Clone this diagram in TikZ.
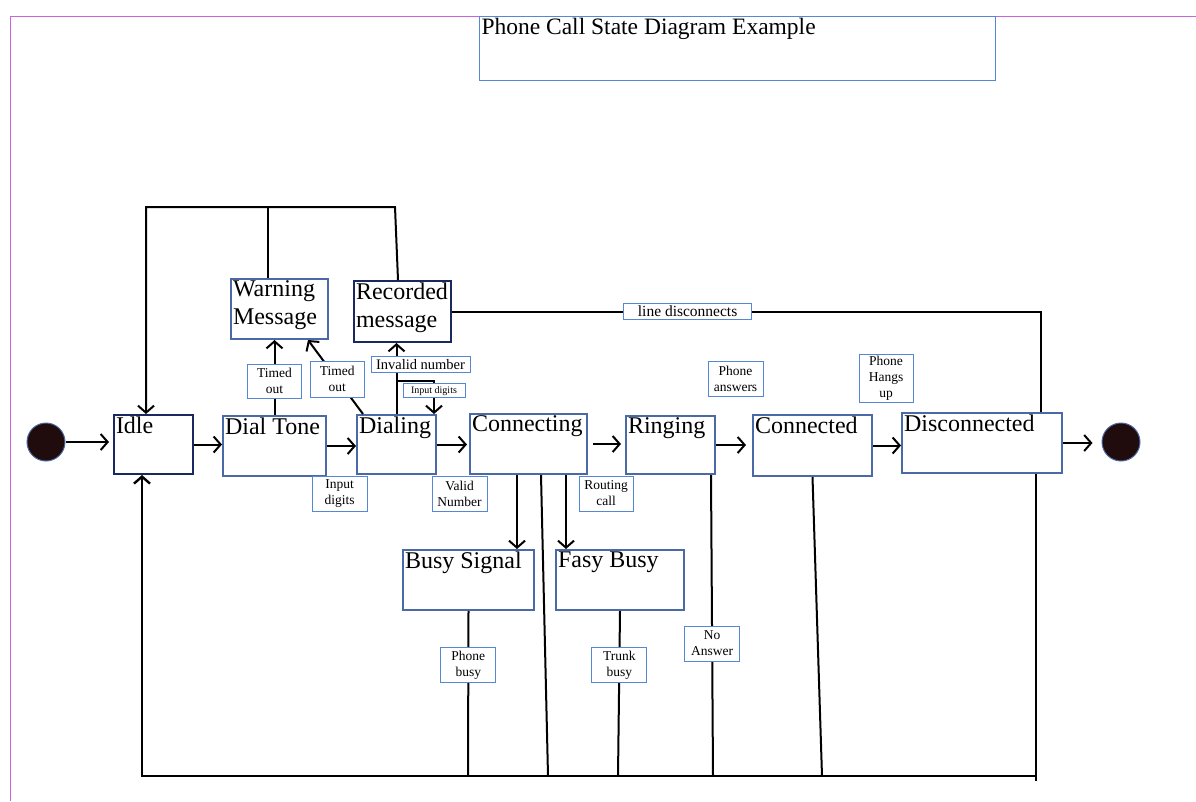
\documentclass[tikz,border=0pt]{standalone}
\usepackage{fontspec}
\setmainfont{Liberation Serif}
\usetikzlibrary{shapes}
\usetikzlibrary{calc}
\usetikzlibrary{arrows.meta}

\definecolor{framepink}{RGB}{200,100,220}
\definecolor{stateblue}{RGB}{75,105,165}
\definecolor{navy}{RGB}{25,40,95}
\definecolor{lblblue}{RGB}{85,135,210}
\definecolor{dotfill}{RGB}{32,12,12}

\newcommand{\sttext}[3]{\parbox[t][#2][t]{#1}{\raggedright #3}}

\tikzset{
  state/.style={draw=stateblue, line width=2pt, rectangle, anchor=north west, inner sep=2pt, font=\fontsize{24}{28}\selectfont},
  lbl/.style={draw=lblblue, line width=1pt, fill=white, rectangle, align=center, inner sep=1pt, minimum width=55pt, minimum height=35pt, font=\fontsize{13.5}{16}\selectfont},
  dot/.style={circle, fill=dotfill, draw=stateblue, line width=1pt, minimum size=38pt, inner sep=0pt},
  conn/.style={line width=2pt}
}

\begin{document}
\begin{tikzpicture}[x=1pt, y=-1pt, >={Straight Barb[length=7pt,width=16pt]}]
  \useasboundingbox (0,0) rectangle (1196,801);
  \draw[framepink, line width=1pt] (10,801) -- (10,16) -- (1196,16);
  \node[state, draw=lblblue, line width=1pt, font=\fontsize{23.5}{26}\selectfont] (title) at (479,16) {\sttext{512pt}{60pt}{Phone Call State Diagram Example}};

  \node[dot] (start) at (46,442) {};
  \node[dot] (stop) at (1121,442) {};

  \node[state, draw=navy] (idle) at (113,414) {\sttext{75pt}{55pt}{Idle}};
  \node[state] (dialtone) at (222,415) {\sttext{99pt}{56pt}{Dial Tone}};
  \node[state] (dialing) at (356,414) {\sttext{75pt}{55pt}{Dialing}};
  \node[state] (connecting) at (469,413) {\sttext{113pt}{56pt}{Connecting}};
  \node[state] (ringing) at (625,415) {\sttext{85pt}{54pt}{Ringing}};
  \node[state] (connected) at (752,414) {\sttext{115pt}{57pt}{Connected}};
  \node[state] (disconnected) at (901,412) {\sttext{156pt}{56pt}{Disconnected}};
  \node[state] (warning) at (230,278) {\sttext{93pt}{56pt}{Warning\\Message}};
  \node[state, draw=navy] (recorded) at (353,280) {\sttext{93pt}{57pt}{Recorded\\message}};
  \node[state] (busy) at (402,549) {\sttext{127pt}{56pt}{Busy Signal}};
  \node[state] (fasy) at (555,549) {\sttext{124pt}{56pt}{Fasy Busy}};

  \draw[->, conn, shorten >=4pt] (start) -- (start -| idle.west);
  \draw[->, conn] (idle.east) -- (idle.east -| dialtone.west);
  \draw[->, conn] (dialtone.east) -- (dialtone.east -| dialing.west);
  \draw[->, conn, shorten >=2pt] (dialing.east) -- (dialing.east -| connecting.west);
  \draw[->, conn, shorten <=5pt, shorten >=4pt] (connecting.east) -- (connecting.east -| ringing.west);
  \draw[->, conn, shorten >=6pt] (ringing.east) -- (ringing.east -| connected.west);
  \draw[->, conn] (connected.east) -- (connected.east -| disconnected.west);
  \draw[->, conn, shorten >=9pt] (disconnected.east) -- (disconnected.east -| stop.west);

  \node[lbl] (lblinput) at (339.5,493.5) {Input\\digits};
  \node[lbl] (lblvalid) at (459.5,493.5) {Valid\\Number};
  \node[lbl, minimum width=54pt] (lblroute) at (606,493.5) {Routing\\call};
  \node[lbl] (lblanswer) at (735.5,378.5) {Phone\\answers};
  \node[lbl, minimum width=54pt, minimum height=48pt] (lblhang) at (886,378) {Phone\\Hangs\\up};

  \draw[->, conn] (dialtone.north) -- (dialtone.north |- warning.south) node[lbl, pos=0.45, minimum width=54pt, minimum height=34pt] (lbltime1) {Timed\\out};
  \draw[->, conn] ([xshift=7pt]dialing.north west) -- ([xshift=-21pt]warning.south east) node[lbl, pos=0.47, minimum width=54pt, minimum height=36pt] (lbltime2) {Timed\\out};
  \draw[->, conn] (dialing.north) -- (dialing.north |- recorded.south) node[lbl, pos=0.7, xshift=24pt, minimum width=99pt, minimum height=16pt, font=\fontsize{14.5}{16}\selectfont] (lblinvalid) {Invalid number};
  \draw[->, conn] ($(dialing.north)+(-1,-33)$) -| ([xshift=-3pt]dialing.north east) node[lbl, pos=0.65, minimum width=62pt, minimum height=14pt, font=\fontsize{10}{12}\selectfont] (lblloop) {Input digits};
  \draw[conn] (recorded.east) -| ([xshift=-22pt]disconnected.north east) node[lbl, pos=0.2, minimum width=128pt, minimum height=16pt, font=\fontsize{15.5}{17}\selectfont] (lblline) {line disconnects};

  \coordinate (topl) at (146,207);
  \coordinate (topr) at (395,207);
  \draw[->, conn] ([xshift=-4.5pt]recorded.north) -- (topr) -- (topl) -- (topl |- idle.north);
  \draw[conn] ([xshift=-11.5pt]warning.north) -- ([xshift=-11.5pt]warning.north |- topl);

  \draw[->, conn] ([xshift=-11.5pt]connecting.south) -- ([xshift=-11.5pt]connecting.south |- busy.north);
  \draw[->, conn] ([xshift=37.5pt]connecting.south) -- ([xshift=37.5pt]connecting.south |- fasy.north);

  \coordinate (busl) at (142,776);
  \coordinate (busr) at (1036,776);
  \coordinate (bcon) at (548,776);
  \coordinate (bbusy) at (468,776);
  \coordinate (bfasy) at (618,776);
  \coordinate (bring) at (713,776);
  \coordinate (bcond) at (822,776);
  \coordinate (bdisc) at (1036,781);
  \draw[->, conn, line width=2.4pt] (busr) -- (busl) -- (busl |- idle.south);
  \draw[conn] ([xshift=12.5pt]connecting.south) -- (bcon);
  \draw[conn] (busy.south) -- (bbusy) node[lbl, pos=0.33] (lblpbusy) {Phone\\busy};
  \draw[conn] (fasy.south) -- (bfasy) node[lbl, pos=0.33] (lbltbusy) {Trunk\\busy};
  \draw[conn] ([xshift=-5pt]ringing.south east) -- (bring) node[lbl, pos=0.56] (lblnoans) {No\\Answer};
  \draw[conn] (connected.south) -- (bcond);
  \draw[conn] ([xshift=-27pt]disconnected.south east) -- (bdisc);
\end{tikzpicture}
\end{document}
